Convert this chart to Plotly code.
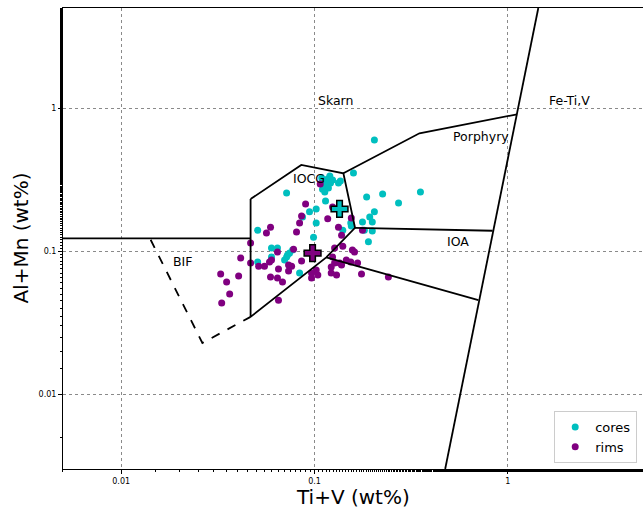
import math
import plotly.graph_objects as go

# ---- data (wt%) ----
cores_x = [0.204, 0.159, 0.0717, 0.109, 0.113, 0.117, 0.121, 0.114, 0.110, 0.118, 0.124, 0.113,
           0.136, 0.133, 0.120, 0.114, 0.102, 0.0942, 0.0867, 0.102, 0.0988, 0.0508, 0.186, 0.225,
           0.353, 0.272, 0.204, 0.193, 0.199, 0.177, 0.181, 0.199, 0.190, 0.154, 0.140, 0.155,
           0.0599, 0.0643, 0.0508, 0.0599, 0.0717, 0.0743, 0.077, 0.0837, 0.070, 0.0725]
cores_y = [0.598, 0.351, 0.255, 0.324, 0.309, 0.319, 0.299, 0.285, 0.271, 0.276, 0.314, 0.259,
           0.309, 0.299, 0.335, 0.224, 0.197, 0.188, 0.173, 0.157, 0.125, 0.140, 0.239, 0.251,
           0.259, 0.217, 0.188, 0.173, 0.160, 0.160, 0.140, 0.138, 0.116, 0.157, 0.140, 0.150,
           0.105, 0.105, 0.0838, 0.0909, 0.0909, 0.0968, 0.1016, 0.0702, 0.0865, 0.0938]

rims_x = [0.107, 0.0899, 0.124, 0.0857, 0.0837, 0.0807, 0.117, 0.133, 0.138, 0.155, 0.177,
          0.0592, 0.0564, 0.0467, 0.0415, 0.0467, 0.0514, 0.0551, 0.0585, 0.0599, 0.0643, 0.0651,
          0.0592, 0.0643, 0.0683, 0.0651, 0.0734, 0.0734, 0.0761, 0.0779, 0.0857,
          0.0327, 0.0351, 0.0364, 0.0331, 0.0405,
          0.0965, 0.0965, 0.102, 0.104, 0.127, 0.140, 0.157, 0.161, 0.124, 0.127, 0.122, 0.130,
          0.122, 0.138, 0.146, 0.154, 0.167, 0.175, 0.241, 0.135]
rims_y = [0.294, 0.213, 0.203, 0.176, 0.157, 0.136, 0.168, 0.147, 0.129, 0.170, 0.140,
          0.147, 0.134, 0.114, 0.0894, 0.0824, 0.0785, 0.0785, 0.0838, 0.0865, 0.0985, 0.0749,
          0.0659, 0.0648, 0.0608, 0.0454, 0.0798, 0.0725, 0.0785, 0.103, 0.0851,
          0.0691, 0.0608, 0.0501, 0.0433, 0.0669,
          0.0702, 0.0648, 0.0737, 0.068, 0.105, 0.108, 0.1016, 0.0985, 0.0909, 0.0824, 0.0773, 0.068,
          0.0702, 0.0798, 0.0865, 0.0838, 0.0824, 0.0691, 0.0659, 0.0824]

# mean values (crosses)
cores_mean = (0.1347, 0.197)
rims_mean = (0.0977, 0.0968)

# field boundaries (wt%)
bif_top_x = [0.003, 0.0467]
bif_top_y = [0.1227, 0.1227]
iocg_x = [0.0467, 0.0854, 0.141, 0.162, 0.115, 0.0467, 0.0467]
iocg_y = [0.231, 0.40, 0.35, 0.1455, 0.0904, 0.0347, 0.231]
porph_x = [0.141, 0.349, 1.115]
porph_y = [0.35, 0.666, 0.9035]
ioa_top_x = [0.162, 0.834]
ioa_top_y = [0.1455, 0.1387]
ioa_bot_x = [0.115, 0.704]
ioa_bot_y = [0.0904, 0.0454]
feti_x = [1.437, 0.474]
feti_y = [5.0, 0.003]
bif_dash_x = [0.0142, 0.0263, 0.0467]
bif_dash_y = [0.12, 0.0228, 0.0347]

field_labels = ["Skarn", "Fe-Ti,V", "Porphyry", "IOCG", "IOA", "BIF"]
field_label_x = [0.1012, 1.6, 0.505, 0.076, 0.475, 0.018]
field_label_y = [1.12, 1.12, 0.637, 0.324, 0.1175, 0.0851]

tick_vals = [0.01, 0.1, 1]
tick_text = ["0.01", "0.1", "1"]

CYAN = "#00BFBF"
PURPLE = "#800080"
FONT = "DejaVu Sans"

fig = go.Figure()

fig.add_trace(go.Scatter(x=cores_x, y=cores_y, mode="markers", name="cores",
                         marker=dict(color=CYAN, size=7, line=dict(width=0))))
fig.add_trace(go.Scatter(x=rims_x, y=rims_y, mode="markers", name="rims",
                         marker=dict(color=PURPLE, size=7, line=dict(width=0))))

line_style = dict(color="black", width=1.8)
for lx, ly in [(bif_top_x, bif_top_y), (iocg_x, iocg_y), (porph_x, porph_y),
               (ioa_top_x, ioa_top_y), (ioa_bot_x, ioa_bot_y), (feti_x, feti_y)]:
    fig.add_trace(go.Scatter(x=lx, y=ly, mode="lines", line=line_style,
                             showlegend=False, hoverinfo="skip"))
fig.add_trace(go.Scatter(x=bif_dash_x, y=bif_dash_y, mode="lines",
                         line=dict(color="black", width=1.8, dash="dash"),
                         showlegend=False, hoverinfo="skip"))

fig.add_trace(go.Scatter(x=[cores_mean[0]], y=[cores_mean[1]], mode="markers", showlegend=False,
                         marker=dict(symbol="cross", size=14, color=CYAN,
                                     line=dict(color="black", width=1.5))))
fig.add_trace(go.Scatter(x=[rims_mean[0]], y=[rims_mean[1]], mode="markers", showlegend=False,
                         marker=dict(symbol="cross", size=14, color=PURPLE,
                                     line=dict(color="black", width=1.5))))

# annotations on log axes take log10 positions
for t, lx, ly in zip(field_labels, field_label_x, field_label_y):
    fig.add_annotation(x=math.log10(lx), y=math.log10(ly), xref="x", yref="y", text=t,
                       showarrow=False, xanchor="left", yanchor="middle",
                       font=dict(family=FONT, size=12.5, color="black"))

axis_common = dict(
    type="log", showline=True, linecolor="black", linewidth=1, mirror=True,
    ticks="outside", ticklen=4, tickcolor="black",
    tickvals=tick_vals, ticktext=tick_text,
    tickfont=dict(family=FONT, size=8, color="black"),
    showgrid=True, gridcolor="#8a8a8a", gridwidth=1, griddash="dot",
    zeroline=False, automargin=False,
    minor=dict(ticks="outside", ticklen=2, tickcolor="black", showgrid=False),
)

fig.update_xaxes(**axis_common, range=[-2.301, 0.699])
fig.update_yaxes(**axis_common, range=[-2.523, 0.699])

# axis titles
fig.add_annotation(x=0.5, y=-0.061, xref="paper", yref="paper", text="Ti+V (wt%)",
                   showarrow=False, xanchor="center", yanchor="middle",
                   font=dict(family=FONT, size=20, color="black"))
fig.add_annotation(x=-0.074, y=0.5, xref="paper", yref="paper", text="Al+Mn (wt%)",
                   showarrow=False, xanchor="center", yanchor="middle", textangle=-90,
                   font=dict(family=FONT, size=20, color="black"))

fig.update_layout(
    width=643, height=510,
    margin=dict(l=63, r=0, t=8, b=41, autoexpand=False),
    paper_bgcolor="white", plot_bgcolor="white",
    font=dict(family=FONT, color="black"),
    legend=dict(x=0.99, y=0.013, xanchor="right", yanchor="bottom",
                bgcolor="rgba(255,255,255,0.9)", bordercolor="#cccccc", borderwidth=1,
                font=dict(family=FONT, size=13), itemwidth=30, tracegroupgap=0),
    showlegend=True,
)

fig.write_html("out.html", config={"displayModeBar": False},
               post_script="document.body.style.margin='0';")
